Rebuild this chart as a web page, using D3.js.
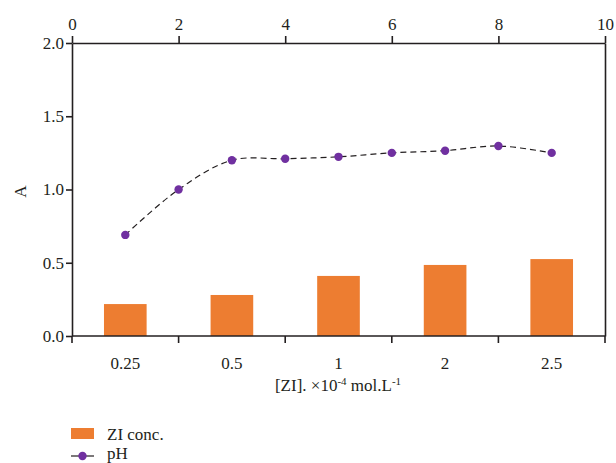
<!DOCTYPE html>
<html>
<head>
<meta charset="utf-8">
<script src="https://cdn.jsdelivr.net/npm/d3@7"></script>
<style>
  body { margin: 0; background: #fff; }
  svg text { font-family: "Liberation Serif", "DejaVu Serif", serif; fill: #231f20; }
  .axis path, .axis line { stroke: #231f20; stroke-width: 1.6; }
</style>
</head>
<body>
<div id="chart"></div>
<script>
// categories on bottom axis
var categories = ["0.25", "0.5", "1", "2", "2.5"];
// ZI conc. bars (A)
var barValues = [0.218, 0.28, 0.41, 0.485, 0.525];
// pH series, x on top axis
var phX = [1, 2, 3, 4, 5, 6, 7, 8, 9];
var phValues = [0.69, 1.0, 1.2, 1.21, 1.223, 1.25, 1.265, 1.297, 1.25];
var yTicks = [0, 0.5, 1.0, 1.5, 2.0];
var topTicks = [0, 2, 4, 6, 8, 10];

var width = 616, height = 463,
    margin = {top: 43, right: 11, bottom: 127, left: 72},
    fs = "17px";
var w = width - margin.left - margin.right,
    h = height - margin.top - margin.bottom;

var svg = d3.select("#chart").append("svg")
    .attr("width", width)
    .attr("height", height);
var g = svg.append("g")
    .attr("transform", "translate(" + margin.left + "," + margin.top + ")");

var xBand = d3.scaleBand().domain(categories).range([0, w]).paddingInner(0.6).paddingOuter(0.3);
var xStep = d3.scaleBand().domain(categories).range([0, w]);
var xTop = d3.scaleLinear().domain([0, 10]).range([0, w]);
var y = d3.scaleLinear().domain([0, 2]).range([h, 0]);

// bars
g.selectAll(".bar")
    .data(barValues)
  .enter().append("rect")
    .attr("class", "bar")
    .attr("x", function(d, i) { return xBand(categories[i]); })
    .attr("y", function(d) { return y(d); })
    .attr("width", xBand.bandwidth())
    .attr("height", function(d) { return h - y(d); })
    .style("fill", "#ed7d31");

// pH line
var phData = phX.map(function(x, i) { return {x: x, v: phValues[i]}; });
var line = d3.line()
    .x(function(d) { return xTop(d.x); })
    .y(function(d) { return y(d.v); })
    .curve(d3.curveCatmullRom.alpha(0.5));
g.append("path")
    .datum(phData)
    .attr("d", line)
    .style("fill", "none")
    .style("stroke", "#231f20")
    .style("stroke-width", 1.2)
    .style("stroke-dasharray", "6,4");
g.selectAll(".pt")
    .data(phData)
  .enter().append("circle")
    .attr("class", "pt")
    .attr("cx", function(d) { return xTop(d.x); })
    .attr("cy", function(d) { return y(d.v); })
    .attr("r", 4.2)
    .style("fill", "#7030a0");

// left axis
var yAxis = g.append("g").attr("class", "axis")
    .call(d3.axisLeft(y).tickValues(yTicks).tickFormat(d3.format(".1f")).tickSize(6).tickSizeOuter(0));
yAxis.selectAll("text").style("font-size", fs).attr("x", -8);

// right axis (plain line)
g.append("g").attr("class", "axis")
    .attr("transform", "translate(" + w + ",0)")
    .call(d3.axisRight(y).tickValues([]).tickSizeOuter(0));

// top axis
var topAxis = g.append("g").attr("class", "axis")
    .call(d3.axisTop(xTop).tickValues(topTicks).tickSize(7).tickSizeOuter(0));
topAxis.selectAll("text").style("font-size", fs).attr("y", -13);

// bottom axis: ticks at category boundaries, labels at centres
var bottom = g.append("g").attr("class", "axis")
    .attr("transform", "translate(0," + h + ")");
bottom.append("line").attr("x1", 0).attr("x2", w).attr("y1", 0).attr("y2", 0);
var bounds = categories.map(function(c) { return xStep(c); }).concat([w]);
bottom.selectAll(".btick").data(bounds).enter().append("line")
    .attr("x1", function(d) { return d; }).attr("x2", function(d) { return d; })
    .attr("y1", 0).attr("y2", 7);
bottom.selectAll(".blabel").data(categories).enter().append("text")
    .attr("x", function(d) { return xStep(d) + xStep.bandwidth() / 2; })
    .attr("y", 33)
    .attr("text-anchor", "middle")
    .style("font-size", fs)
    .text(function(d) { return d; });

// axis titles
svg.append("text")
    .attr("transform", "translate(26," + (margin.top + h / 2 + 2) + ") rotate(-90)")
    .attr("text-anchor", "middle")
    .style("font-size", fs)
    .text("A");

var xt = svg.append("text")
    .attr("x", 338).attr("y", 391)
    .attr("text-anchor", "middle")
    .style("font-size", fs);
xt.append("tspan").text("[ZI]. \u00d710");
xt.append("tspan").attr("dy", -6).style("font-size", "11px").text("-4");
xt.append("tspan").attr("dy", 6).text(" mol.L");
xt.append("tspan").attr("dy", -6).style("font-size", "11px").text("-1");

// legend
var lg = svg.append("g").attr("transform", "translate(71,0)");
lg.append("rect").attr("x", 0).attr("y", 428).attr("width", 23).attr("height", 11).style("fill", "#ed7d31");
lg.append("text").attr("x", 36).attr("y", 440).style("font-size", fs).text("ZI conc.");
lg.append("line").attr("x1", 0).attr("x2", 23).attr("y1", 456).attr("y2", 456)
    .style("stroke", "#231f20").style("stroke-width", 1.2);
lg.append("circle").attr("cx", 11.5).attr("cy", 456).attr("r", 4.2).style("fill", "#7030a0");
lg.append("text").attr("x", 36).attr("y", 459).style("font-size", fs).text("pH");
</script>
</body>
</html>
